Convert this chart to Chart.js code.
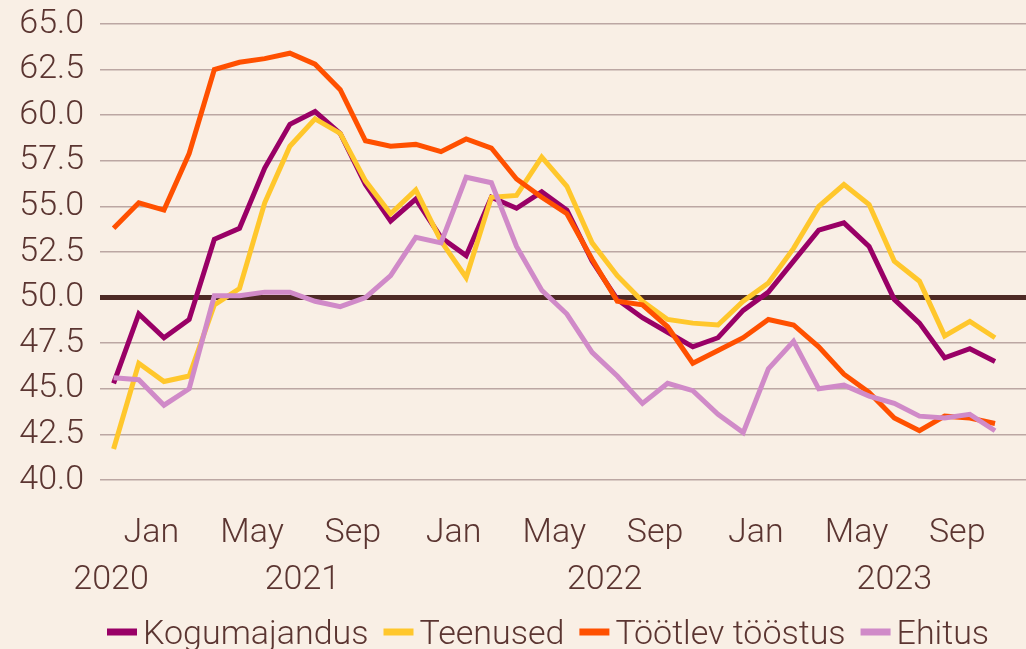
<!DOCTYPE html>
<html lang="et">
<head>
<meta charset="UTF-8">
<meta name="viewport" content="width=device-width, initial-scale=1.0">
<title>PMI</title>
<script src="https://cdn.jsdelivr.net/npm/chart.js"></script>
<style>
  html, body { margin: 0; padding: 0; background: #f9efe5; }
  #wrap { width: 1026px; height: 649px; }
</style>
</head>
<body>
<div id="wrap"><canvas id="pmiChart"></canvas></div>
<script>
// Nov 2020 .. Oct 2023
const months = ['Nov','Dec',
  'Jan','Feb','Mar','Apr','May','Jun','Jul','Aug','Sep','Oct','Nov','Dec',
  'Jan','Feb','Mar','Apr','May','Jun','Jul','Aug','Sep','Oct','Nov','Dec',
  'Jan','Feb','Mar','Apr','May','Jun','Jul','Aug','Sep','Oct'];

const kogumajandus = [45.3, 49.1, 47.8, 48.8, 53.2, 53.8, 57.1, 59.5, 60.2, 59.0, 56.2, 54.2,
  55.4, 53.3, 52.3, 55.5, 54.9, 55.8, 54.8, 52.0, 49.9, 48.9, 48.1, 47.3,
  47.8, 49.3, 50.3, 52.0, 53.7, 54.1, 52.8, 49.9, 48.6, 46.7, 47.2, 46.5];
const teenused = [41.7, 46.4, 45.4, 45.7, 49.6, 50.5, 55.2, 58.3, 59.8, 59.0, 56.4, 54.6,
  55.9, 53.1, 51.1, 55.5, 55.6, 57.7, 56.1, 53.0, 51.2, 49.8, 48.8, 48.6,
  48.5, 49.8, 50.8, 52.7, 55.0, 56.2, 55.1, 52.0, 50.9, 47.9, 48.7, 47.8];
const tootlevToostus = [53.8, 55.2, 54.8, 57.9, 62.5, 62.9, 63.1, 63.4, 62.8, 61.4, 58.6, 58.3,
  58.4, 58.0, 58.7, 58.2, 56.5, 55.5, 54.6, 52.1, 49.8, 49.6, 48.4, 46.4,
  47.1, 47.8, 48.8, 48.5, 47.3, 45.8, 44.8, 43.4, 42.7, 43.5, 43.4, 43.1];
const ehitus = [45.6, 45.5, 44.1, 45.0, 50.1, 50.1, 50.3, 50.3, 49.8, 49.5, 50.0, 51.2,
  53.3, 53.0, 56.6, 56.3, 52.8, 50.4, 49.1, 47.0, 45.7, 44.2, 45.3, 44.9,
  43.6, 42.6, 46.1, 47.6, 45.0, 45.2, 44.6, 44.2, 43.5, 43.4, 43.6, 42.7];

const monthTickNames = ['Jan', 'May', 'Sep'];
const yearLabels = ['2020', '2021', '2022', '2023'];
const yearTicks = [-0.1, 7.5, 19.5, 31];   // in month-index units

const textColor = '#5b3531';
const font = { family: 'Roboto', size: 34, weight: 300 };

function toPoints(arr) {
  return arr.map((v, i) => ({ x: i, y: v }));
}

// legend drawn by hand: short bar, small gap, label
const bottomLegend = {
  id: 'bottomLegend',
  afterDraw(chart) {
    const ctx = chart.ctx;
    ctx.save();
    ctx.font = '300 34px Roboto';
    ctx.textBaseline = 'alphabetic';
    let x = chart.chartArea.left + 7;
    const y = chart.height - 17;
    chart.data.datasets.forEach(ds => {
      ctx.fillStyle = ds.borderColor;
      ctx.fillRect(x, y - 3.5, 30, 7);
      x += 36;
      ctx.fillStyle = textColor;
      ctx.fillText(ds.label, x, y + 12);
      x += ctx.measureText(ds.label).width + 15;
    });
    ctx.restore();
  }
};

const ctx = document.getElementById('pmiChart').getContext('2d');
new Chart(ctx, {
  type: 'line',
  data: {
    datasets: [
      { label: 'Kogumajandus', data: toPoints(kogumajandus), borderColor: '#990066', order: 4 },
      { label: 'Teenused', data: toPoints(teenused), borderColor: '#ffc72c', order: 3 },
      { label: 'Töötlev tööstus', data: toPoints(tootlevToostus), borderColor: '#ff5000', order: 2 },
      { label: 'Ehitus', data: toPoints(ehitus), borderColor: '#d08ac8', order: 1 }
    ]
  },
  options: {
    responsive: true,
    maintainAspectRatio: false,
    animation: false,
    layout: { padding: { top: 0, right: 0, bottom: 56, left: 0 } },
    elements: {
      line: { borderWidth: 5, tension: 0, fill: false },
      point: { radius: 0 }
    },
    plugins: {
      legend: { display: false },
      tooltip: { enabled: false }
    },
    scales: {
      x: {
        type: 'linear',
        position: 'bottom',
        min: -0.54,
        max: 36.23,
        grid: { display: false },
        border: { display: false },
        afterFit: s => { s.height = 72; },
        afterBuildTicks: s => {
          s.ticks = months
            .map((m, i) => i)
            .filter(i => monthTickNames.includes(months[i]))
            .map(i => ({ value: i - 0.5 }));
        },
        ticks: {
          autoSkip: false,
          maxRotation: 0,
          padding: 25,
          color: textColor,
          font: font,
          callback: v => months[Math.round(v + 0.5)]
        }
      },
      x2: {
        type: 'linear',
        position: 'bottom',
        min: -0.54,
        max: 36.23,
        grid: { display: false },
        border: { display: false },
        afterFit: s => { s.height = 41; },
        afterBuildTicks: s => {
          s.ticks = yearTicks.map(v => ({ value: v }));
        },
        ticks: {
          autoSkip: false,
          maxRotation: 0,
          padding: 0,
          color: textColor,
          font: font,
          callback: (v, i) => yearLabels[i]
        }
      },
      y: {
        min: 40,
        max: 65,
        afterFit: s => {
          s.width = 100;
          s.paddingTop = 24;
          s.paddingBottom = 0;
        },
        border: { display: false },
        grid: {
          drawTicks: false,
          color: c => c.tick && c.tick.value === 50 ? '#4e2a25' : '#bca7a3',
          lineWidth: c => c.tick && c.tick.value === 50 ? 5 : 1.5
        },
        ticks: {
          autoSkip: false,
          stepSize: 2.5,
          padding: 16,
          color: textColor,
          font: font,
          callback: v => v.toFixed(1)
        }
      }
    }
  },
  plugins: [bottomLegend]
});
</script>
</body>
</html>
